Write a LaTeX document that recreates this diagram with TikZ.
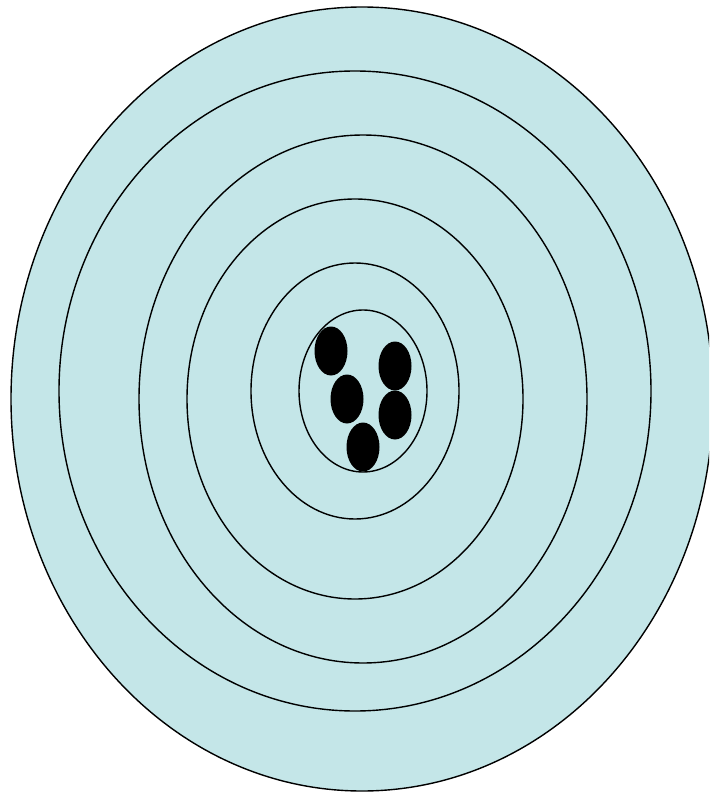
\documentclass[tikz,border=0pt]{standalone}
\usepackage{tikz}
\definecolor{TargetCyan}{RGB}{196,230,232}
\tikzset{
  ring/.style={draw=black,line width=1.4pt,fill=TargetCyan},
  hit/.style={fill=black,draw=none}
}
\begin{document}
\begin{tikzpicture}[x=1pt,y=-1pt]
  \useasboundingbox (0,0) rectangle (709,794);
  \clip (0,0) rectangle (709,794);
  % rings, outermost first
  \foreach \cx/\cy/\rx/\ry in {362/399/351/392, 355/391/296/320, 363/399/224/264,
      355/399/168/200, 355/391/104/128, 363/391/64/81}
    \draw[ring] (\cx,\cy) ellipse [x radius=\rx, y radius=\ry];
  % shots
  \foreach \hx/\hy in {331/351, 395/366, 347/399, 395/415, 363/447}
    \fill[hit] (\hx,\hy) ellipse [x radius=16.5, y radius=24.5];
\end{tikzpicture}
\end{document}
